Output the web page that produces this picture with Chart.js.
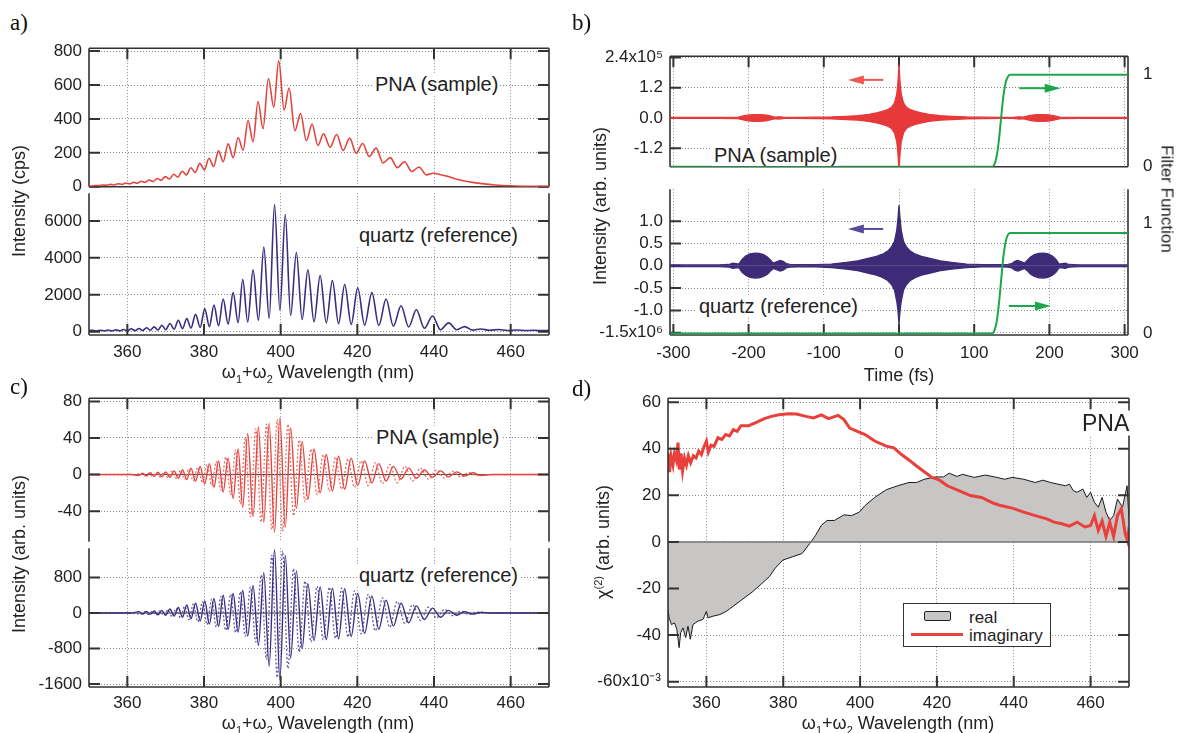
<!DOCTYPE html>
<html>
<head>
<meta charset="utf-8">
<script src="https://cdn.jsdelivr.net/npm/chart.js@4.4.1/dist/chart.umd.min.js"></script>
<style>
  body { margin: 0; background: #fff; }
  #page { position: relative; width: 1178px; height: 733px; overflow: hidden; font-family: "Liberation Sans", Arial, sans-serif; color: #222; }
  canvas { position: absolute; }
  .t { position: absolute; white-space: nowrap; line-height: 1; }
  .panel { font-family: "Liberation Serif", "Times New Roman", serif; font-size: 23px; color: #111; }
  .note { font-size: 20px; background: #fff; padding: 1px 2px; transform: translateY(-50%); }
  .xt { font-size: 18px; transform: translate(-50%, -50%); }
  .yt { font-size: 18px; transform: translate(-50%, -50%) rotate(-90deg); }
  .yr { font-size: 17px; transform: translate(-50%, -50%) rotate(90deg); }
  sub, sup { font-size: 11px; line-height: 0; }
  #legend { position: absolute; left: 903px; top: 603px; width: 146px; height: 42px; border: 1.5px solid #333; background: #fff; }
  #legend .sw { position: absolute; left: 20px; top: 7px; width: 25px; height: 8px; background: #c8c5c5; border: 1.5px solid #222; border-radius: 2px; }
  #legend .ln { position: absolute; left: 7px; top: 29px; width: 52px; height: 3px; background: #e8443f; }
  #legend .lt { position: absolute; left: 65px; font-size: 17px; transform: translateY(-50%); line-height: 1; }
</style>
</head>
<body>
<div id="page">
  <canvas id="aTop"></canvas>
  <canvas id="aBot"></canvas>
  <canvas id="bTop"></canvas>
  <canvas id="bBot"></canvas>
  <canvas id="cTop"></canvas>
  <canvas id="cBot"></canvas>
  <canvas id="dMain"></canvas>

  <div class="t panel" style="left:10px;top:11px">a)</div>
  <div class="t panel" style="left:572px;top:11px">b)</div>
  <div class="t panel" style="left:10px;top:375px">c)</div>
  <div class="t panel" style="left:572px;top:377px">d)</div>

  <div class="t note" style="left:373px;top:84px">PNA (sample)</div>
  <div class="t note" style="left:357px;top:235px">quartz (reference)</div>
  <div class="t note" style="left:712px;top:155px">PNA (sample)</div>
  <div class="t note" style="left:697px;top:306px">quartz (reference)</div>
  <div class="t note" style="left:374px;top:437px">PNA (sample)</div>
  <div class="t note" style="left:357px;top:575px">quartz (reference)</div>
  <div class="t note" style="left:1080px;top:423px;font-size:23px">PNA</div>

  <div class="t xt" style="left:318px;top:372px">ω<sub>1</sub>+ω<sub>2</sub> Wavelength (nm)</div>
  <div class="t xt" style="left:899px;top:375px">Time (fs)</div>
  <div class="t xt" style="left:318px;top:723px">ω<sub>1</sub>+ω<sub>2</sub> Wavelength (nm)</div>
  <div class="t xt" style="left:898px;top:723px">ω<sub>1</sub>+ω<sub>2</sub> Wavelength (nm)</div>

  <div class="t yt" style="left:19px;top:201px">Intensity (cps)</div>
  <div class="t yt" style="left:19px;top:554px">Intensity (arb. units)</div>
  <div class="t yt" style="left:600px;top:206px">Intensity (arb. units)</div>
  <div class="t yr" style="left:1167px;top:199px">Filter Function</div>
  <div class="t yt" style="left:603px;top:542px">χ<sup>(2)</sup> (arb. units)</div>

  <div id="legend">
    <div class="sw"></div>
    <div class="lt" style="top:13px">real</div>
    <div class="ln"></div>
    <div class="lt" style="top:31px">imaginary</div>
  </div>
</div>

<script>
const FONT = "'Liberation Sans', Arial, sans-serif";

// ---- tick values / labels ----
const waveTicks = [360, 380, 400, 420, 440, 460];
const timeTicks = [-300, -200, -100, 0, 100, 200, 300];
const aTopTicks = [0, 200, 400, 600, 800];
const aBotTicks = [0, 2000, 4000, 6000];
const bTopTicks = [-1.2, 0, 1.2, 2.4];
const bTopLabels = ["-1.2", "0.0", "1.2", "2.4x10⁵"];
const bBotTicks = [-1.5, -1, -0.5, 0, 0.5, 1];
const bBotLabels = ["-1.5x10⁶", "-1.0", "-0.5", "0.0", "0.5", "1.0"];
const filterTicks = [0, 1];
const cTopTicks = [-40, 0, 40, 80];
const cBotTicks = [-1600, -800, 0, 800];
const dTicks = [-60, -40, -20, 0, 20, 40, 60];
const dLabels = ["-60x10⁻³", "-40", "-20", "0", "20", "40", "60"];

// ---- a) spectra: PNA (sample) ----
const aRedWl = [
  350, 350.6, 351.6, 352.6, 353.6, 354.6, 355.6, 356.6, 357.6, 358.6,
  359.6, 360.6, 361.6, 362.6, 363.6, 364.6, 365.7, 366.7, 367.8, 368.8,
  369.9, 371.0, 372.1, 373.2, 374.3, 375.4, 376.6, 377.7, 378.9, 380.1,
  381.3, 382.5, 383.8, 385.0, 386.3, 387.6, 388.9, 390.2, 391.5, 392.8,
  394.1, 395.4, 396.8, 398.2, 399.5, 400.9, 402.2, 403.7, 405.2, 406.7,
  408.2, 409.7, 411.2, 412.9, 414.6, 416.3, 418.0, 419.7, 421.4, 423.1,
  424.9, 426.7, 428.6, 430.4, 432.3, 434.2, 436.1, 438.0, 439.9, 441.5,
  443.5, 446, 448, 450, 453, 456, 460, 465, 470];
const aRedVal = [
  4, 5, 8, 7, 11, 9, 14, 11, 18, 14,
  22, 17, 27, 21, 33, 26, 40, 31, 49, 38,
  60, 46, 74, 57, 92, 70, 112, 85, 138, 100,
  168, 120, 212, 148, 253, 172, 291, 215, 391, 265,
  503, 342, 638, 469, 742, 451, 582, 330, 432, 272,
  370, 244, 312, 233, 308, 215, 287, 198, 255, 178,
  228, 141, 172, 113, 148, 90, 117, 70, 80, 73,
  62, 44, 34, 26, 17, 11, 6, 3, 2];

// ---- a) spectra: quartz (reference) ----
const aBlueWl = [
  350, 351.0, 352.0, 353.0, 354.0, 355.0, 356.0, 357.0, 358.0, 359.0,
  360.0, 361.0, 362.0, 363.0, 364.0, 365.0, 366.0, 367.0, 368.0, 369.0,
  370.0, 371.1, 372.2, 373.3, 374.4, 375.5, 376.6, 377.8, 379.0, 380.2,
  381.4, 382.6, 383.8, 385.0, 386.3, 387.6, 388.9, 390.1, 391.4, 392.8,
  394.2, 395.6, 397.0, 398.4, 399.8, 401.2, 402.6, 404.1, 405.6, 407.1,
  408.7, 410.3, 411.9, 413.5, 415.1, 416.7, 418.4, 420.1, 421.9, 423.8,
  425.6, 427.5, 429.4, 431.4, 433.4, 435.4, 437.5, 439.6, 441.7, 443.8,
  445.9, 448.0, 450.1, 452.2, 454.5, 456.9, 459.2, 461.5, 463.8, 466.0,
  468.0, 470];
const aBlueVal = [
  70, 80, 40, 85, 45, 95, 45, 105, 50, 120,
  55, 160, 60, 180, 70, 215, 80, 265, 95, 355,
  110, 445, 140, 620, 170, 710, 200, 940, 240, 1240,
  280, 1450, 330, 1770, 420, 2120, 500, 2830, 530, 3350,
  620, 4590, 720, 6880, 1150, 6350, 880, 4290, 660, 3350,
  540, 3040, 480, 2770, 440, 2560, 400, 2380, 360, 2120,
  340, 1770, 300, 1410, 260, 1190, 190, 850, 110, 480,
  110, 280, 90, 150, 80, 120, 70, 95, 65, 80,
  60, 65];

// ---- b) time domain envelopes ----
const bRedTime = [
  -304, -240, -214, -210, -204, -198, -192, -186, -180, -174,
  -169, -165, -161, -157, -152, -140, -110, -90, -70, -55,
  -40, -30, -22, -15, -10, -6, -3, -1.5, 0, 1.5,
  3, 6, 10, 15, 22, 30, 40, 55, 70, 90,
  110, 140, 152, 157, 161, 165, 169, 174, 180, 186,
  192, 198, 204, 210, 214, 240, 304];
const bRedUp = [
  0.02, 0.02, 0.03, 0.06, 0.1, 0.125, 0.135, 0.135, 0.125, 0.1,
  0.06, 0.03, 0.045, 0.04, 0.02, 0.02, 0.03, 0.04, 0.065, 0.09,
  0.14, 0.2, 0.26, 0.33, 0.42, 0.6, 0.95, 1.4, 2.11, 1.4,
  0.95, 0.6, 0.42, 0.33, 0.26, 0.2, 0.14, 0.09, 0.065, 0.04,
  0.03, 0.02, 0.02, 0.04, 0.045, 0.03, 0.06, 0.1, 0.125, 0.135,
  0.135, 0.125, 0.1, 0.06, 0.03, 0.02, 0.02];
const bRedLo = [
  -0.02, -0.02, -0.03, -0.06, -0.1, -0.125, -0.135, -0.135, -0.125, -0.1,
  -0.06, -0.03, -0.045, -0.04, -0.02, -0.02, -0.03, -0.04, -0.065, -0.09,
  -0.14, -0.2, -0.26, -0.33, -0.42, -0.6, -0.95, -1.4, -2.1, -1.4,
  -0.95, -0.6, -0.42, -0.33, -0.26, -0.2, -0.14, -0.09, -0.065, -0.04,
  -0.03, -0.02, -0.02, -0.04, -0.045, -0.03, -0.06, -0.1, -0.125, -0.135,
  -0.135, -0.125, -0.1, -0.06, -0.03, -0.02, -0.02];

const bBlueTime = [
  -304, -240, -226, -221, -217, -213, -209, -204, -198, -192,
  -186, -180, -175, -171, -167, -163, -158, -154, -150, -145,
  -135, -110, -90, -70, -55, -40, -30, -22, -15, -10,
  -6, -3, -1.5, 0, 1.5, 3, 6, 10, 15, 22,
  30, 40, 55, 70, 90, 110, 135, 145, 150, 154,
  158, 163, 167, 171, 175, 180, 186, 192, 198, 204,
  209, 213, 217, 221, 226, 240, 304];
const bBlueUp = [
  0.02, 0.02, 0.03, 0.06, 0.05, 0.04, 0.14, 0.22, 0.27, 0.285,
  0.28, 0.25, 0.2, 0.13, 0.06, 0.09, 0.12, 0.1, 0.05, 0.03,
  0.025, 0.025, 0.04, 0.075, 0.11, 0.17, 0.21, 0.26, 0.33, 0.42,
  0.55, 0.8, 1.05, 1.36, 1.05, 0.8, 0.55, 0.42, 0.33, 0.26,
  0.21, 0.17, 0.11, 0.075, 0.04, 0.025, 0.025, 0.03, 0.05, 0.1,
  0.12, 0.09, 0.06, 0.13, 0.2, 0.25, 0.28, 0.285, 0.27, 0.22,
  0.14, 0.04, 0.05, 0.06, 0.03, 0.02, 0.02];
const bBlueLo = [
  -0.02, -0.02, -0.03, -0.06, -0.05, -0.04, -0.14, -0.21, -0.26, -0.275,
  -0.27, -0.24, -0.19, -0.12, -0.06, -0.09, -0.12, -0.1, -0.05, -0.03,
  -0.025, -0.025, -0.04, -0.075, -0.11, -0.17, -0.21, -0.26, -0.33, -0.42,
  -0.55, -0.8, -1.0, -1.31, -1.0, -0.8, -0.55, -0.42, -0.33, -0.26,
  -0.21, -0.17, -0.11, -0.075, -0.04, -0.025, -0.025, -0.03, -0.05, -0.1,
  -0.12, -0.09, -0.06, -0.12, -0.19, -0.24, -0.27, -0.275, -0.26, -0.21,
  -0.14, -0.04, -0.05, -0.06, -0.03, -0.02, -0.02];

// filter function (right axis)
const filterTime = [-304, 124, 127, 130, 133, 136, 139, 142, 145, 148, 152, 304];
const filterTop = [0, 0, 0.03, 0.12, 0.3, 0.55, 0.78, 0.92, 0.98, 1, 1, 1];
const filterBot = [0, 0, 0.03, 0.11, 0.28, 0.5, 0.71, 0.84, 0.9, 0.915, 0.915, 0.915];

// arrows (data units)
const arrowTopFrom = [-21, 160];
const arrowTopTo = [-68, 215];
const arrowTopAt = [1.51, 1.18];
const arrowBotFrom = [-21, 146];
const arrowBotTo = [-68, 202];
const arrowBotAt = [0.825, -0.9];

// ---- c) filtered spectra (solid + dotted) ----
const cSolidWl = [
  350, 361,
  363.0, 364.0, 365.0, 366.0, 367.0, 368.0, 369.0, 370.0, 371.1, 372.2,
  373.3, 374.4, 375.5, 376.6, 377.8, 379.0, 380.2, 381.4, 382.6, 383.8,
  385.0, 386.3, 387.6, 388.9, 390.1, 391.4, 392.8, 394.2, 395.6, 397.0,
  398.4, 399.8, 401.2, 402.6, 404.1, 405.6, 407.1, 408.7, 410.3, 411.9,
  413.5, 415.1, 416.7, 418.4, 420.1, 421.9, 423.8, 425.6, 427.5, 429.4,
  431.4, 433.4, 435.4, 437.5, 439.6, 441.7, 443.8, 445.9, 448.0, 450.1,
  452.2,
  455, 470];
const cRedSolid = [
  0, 0,
  -1, 1.5, -1.5, 2, -2, 2.5, -2.5, 3, -3, 4,
  -4, 5, -5.5, 7, -7, 9, -10, 12, -14, 15,
  -19, 18, -26, 28, -36, 45, -46, 52, -52, 56,
  -63, 62, -58, 51, -37, 36, -27, 28, -20, 22,
  -18, 20, -16, 18, -12, 15, -9, 12, -7, 9,
  -5, 7, -4, 5, -3, 4, -2.5, 3, -1.5, 2,
  -1,
  0, 0];
const cBlueSolid = [
  0, 0,
  30, -25, 35, -30, 45, -40, 60, -50, 90, -70,
  125, -95, 180, -130, 220, -180, 270, -250, 330, -300,
  400, -370, 440, -430, 510, -520, 620, -730, 910, -1200,
  1425, -1500, 1300, -1020, 950, -800, 660, -620, 585, -600,
  560, -580, 545, -530, 440, -460, 380, -365, 290, -290,
  220, -220, 160, -145, 110, -95, 60, -50, 30, -25,
  15,
  0, 0];
const cDotWl = [
  350, 361.5,
  363.5, 364.5, 365.5, 366.5, 367.5, 368.5, 369.5, 370.55, 371.65, 372.75,
  373.85, 374.95, 376.05, 377.2, 378.4, 379.6, 380.8, 382.0, 383.2, 384.4,
  385.65, 386.95, 388.25, 389.5, 390.75, 392.1, 393.5, 394.9, 396.3, 397.7,
  399.1, 400.5, 401.9, 403.35, 404.85, 406.35, 407.9, 409.5, 411.1, 412.7,
  414.3, 415.9, 417.55, 419.25, 421.0, 422.85, 424.7, 426.55, 428.45, 430.4,
  432.4, 434.4, 436.45, 438.55, 440.65, 442.75, 444.85, 446.95, 449.05, 451.15,
  455, 470];
const cRedDot = [
  0, 0,
  1, -1.5, 1.5, -2, 2, -2.5, 2.5, -3, 3.5, -4,
  4.5, -5, 6, -7, 8, -9, 11, -12, 14, -17,
  19, -22, 27, -32, 40, -46, 50, -52, 55, -60,
  60, -62, 55, -45, 38, -30, 28, -22, 22, -18,
  19, -16, 17, -14, 15, -12, 13, -10, 11, -9,
  9, -7, 7, -5, 5, -4, 3.5, -2.5, 2, -1,
  0, 0];
const cBlueDot = [
  0, 0,
  -28, 30, -33, 38, -43, 50, -55, 70, -80, 105,
  -110, 150, -150, 200, -200, 250, -260, 310, -320, 370,
  -390, 420, -440, 480, -520, 580, -650, 850, -1050, 1300,
  -1450, 1400, -1250, 1000, -880, 720, -650, 600, -600, 580,
  -570, 560, -540, 500, -470, 420, -400, 340, -320, 260,
  -240, 190, -170, 130, -110, 80, -60, 40, -30, 20,
  0, 0];

// ---- d) chi(2) real / imaginary ----
const dImagWl = [
  350, 350.4, 350.8, 351.3, 351.7, 352.2, 352.6, 353.0, 353.4, 353.8,
  354.3, 354.8, 355.3, 355.9, 356.6, 357.3, 358, 358.7, 359.4, 360,
  360.5, 361.2, 362, 363, 364, 365, 366, 367, 368, 369,
  371, 373, 374.9, 376.9, 378.9, 381.4, 383.4, 385.9, 387.9, 389.9,
  391.8, 394.3, 395.8, 397.3, 399.3, 401.3, 403.8, 406.8, 408.8, 410.7,
  412.7, 414.7, 416.7, 418.7, 420.7, 422.7, 425.7, 428.7, 431.6, 434.6,
  436.6, 439.6, 442.6, 445.6, 448.6, 450.5, 452.5, 454.5, 456.5, 458.5,
  460, 461, 462, 463, 464, 465, 466, 467, 468, 469,
  469.7, 470];
const dImagVal = [
  38, 30, 37, 33, 38, 35, 42.6, 31, 38, 30.5,
  36, 33, 37, 34, 37, 36, 39, 37.5, 41, 43.3,
  38.5, 41.5, 41, 44.7, 44, 46.1, 45.5, 48.2, 47.5, 49.9,
  49.9, 51.3, 52.8, 53.9, 54.6, 55, 54.9, 53.9, 53.2, 54.5,
  52.9, 54.3, 52.5, 48.9, 47.5, 46.1, 43.3, 41.1, 40.4, 37.6,
  35.2, 32.6, 30.1, 27.7, 26.5, 24.1, 22, 19.9, 19.1, 16.7,
  15.6, 14.5, 12.8, 11.3, 9.9, 8.5, 7.8, 6.8, 8.5, 6.4,
  7, 11.3, 5, 9, 2.3, 8.5, 2.3, 11.3, 14.2, 3.7,
  0, 6.4];
const dRealWl = [
  350, 350.3, 350.9, 351.7, 352.3, 352.9, 353.3, 353.9, 354.6, 355.2,
  355.8, 356.5, 357.8, 359.1, 360, 360.4, 361.7, 363.5, 365.2, 366.9,
  368.7, 370.4, 372.1, 374, 376.4, 377.9, 379.9, 382.4, 384.9, 386.9,
  388.4, 389.9, 391.4, 393.3, 395.8, 397.8, 399.8, 401.3, 403.8, 406.8,
  409.8, 412.7, 414.7, 416.7, 419.7, 421.7, 423.2, 425.2, 426.7, 429.7,
  432.6, 435.6, 437.6, 439.6, 442.6, 445.6, 447.6, 449.6, 451.5, 453.5,
  454.5, 455.5, 456.5, 458, 459, 460, 461, 462, 463, 464,
  465, 466, 467, 468.3, 469.5, 470];
const dRealVal = [
  -29.1, -32.6, -35.5, -34.8, -37.6, -45.4, -39, -36.9, -41.1, -36.2,
  -41.8, -35.5, -34, -33.3, -29.8, -32.6, -31.9, -31.2, -29.8, -27.7,
  -25.5, -23.4, -21.3, -18.5, -14.9, -11.3, -7.8, -6.4, -5, -0.7,
  2.8, 7.1, 9.2, 9.2, 11.6, 11.3, 12.8, 15.6, 19.1, 22.4,
  24.1, 25.5, 25.5, 26.9, 27.9, 27.9, 29.5, 28.1, 29, 27.7,
  28.7, 27.7, 26.9, 27.7, 26.9, 25.5, 26.5, 25.5, 24.8, 24.1,
  24.8, 22, 21.3, 22.7, 19.1, 21.3, 17, 14.9, 19.1, 12.8,
  9.2, 11.3, 18.4, 14.9, 24.1, 9.9];

// ---- styles ----
const RED_A = "#e2463f";
const BLUE_A = "#3b2e80";
const RED_B = "#e8393a";
const BLUE_B = "#3d2b78";
const GREEN = "#1fa64c";
const RED_D = "#e8403b";
const FRAME = "#333";

function pts(xs, ys) {
  return xs.map((x, i) => ({ x, y: ys[i] }));
}

const frames = {};

function drawFrame(chart, s) {
  const { ctx, chartArea: a, scales } = chart;
  ctx.save();
  ctx.strokeStyle = FRAME;
  ctx.lineWidth = 1.6;
  ctx.beginPath();
  if (s.sides.includes("t")) { ctx.moveTo(a.left, a.top); ctx.lineTo(a.right, a.top); }
  if (s.sides.includes("b")) { ctx.moveTo(a.left, a.bottom); ctx.lineTo(a.right, a.bottom); }
  if (s.sides.includes("l")) { ctx.moveTo(a.left, a.top); ctx.lineTo(a.left, a.bottom); }
  if (s.sides.includes("r")) { ctx.moveTo(a.right, a.top); ctx.lineTo(a.right, a.bottom); }
  ctx.stroke();
  const L = 11;
  ctx.lineWidth = 2;
  ctx.beginPath();
  s.xTicks.forEach((v) => {
    const x = scales.x.getPixelForValue(v);
    if (s.tickTop) { ctx.moveTo(x, a.top); ctx.lineTo(x, a.top + L); }
    if (s.tickBottom) { ctx.moveTo(x, a.bottom); ctx.lineTo(x, a.bottom - L); }
  });
  s.yTicks.forEach((v) => {
    const y = scales.y.getPixelForValue(v);
    ctx.moveTo(a.left, y); ctx.lineTo(a.left + L, y);
    if (s.rightTicks) { ctx.moveTo(a.right, y); ctx.lineTo(a.right - L, y); }
  });
  ctx.stroke();
  ctx.restore();
}

function drawZero(chart, color, width) {
  const { ctx, chartArea: a, scales } = chart;
  const y = scales.y.getPixelForValue(0);
  ctx.save();
  ctx.strokeStyle = color;
  ctx.lineWidth = width;
  ctx.beginPath();
  ctx.moveTo(a.left, y);
  ctx.lineTo(a.right, y);
  ctx.stroke();
  ctx.restore();
}

function drawArrows(chart, arr) {
  const { ctx, scales } = chart;
  arr.from.forEach((f, i) => {
    const y = scales.y.getPixelForValue(arr.at[i]);
    const x0 = scales.x.getPixelForValue(f);
    const x1 = scales.x.getPixelForValue(arr.to[i]);
    const dir = Math.sign(x1 - x0);
    ctx.save();
    ctx.strokeStyle = arr.colors[i];
    ctx.fillStyle = arr.colors[i];
    ctx.lineWidth = 2;
    ctx.beginPath();
    ctx.moveTo(x0, y);
    ctx.lineTo(x1 - dir * 12, y);
    ctx.stroke();
    ctx.beginPath();
    ctx.moveTo(x1, y);
    ctx.lineTo(x1 - dir * 16, y - 4.5);
    ctx.lineTo(x1 - dir * 16, y + 4.5);
    ctx.closePath();
    ctx.fill();
    ctx.restore();
  });
}

const framePlugin = {
  id: "frame",
  beforeDatasetsDraw(chart) {
    const s = frames[chart.canvas.id];
    if (s.zero && !s.zeroAfter) drawZero(chart, s.zero, 1);
    if (s.under) drawFrame(chart, s);
  },
  afterDatasetsDraw(chart) {
    const s = frames[chart.canvas.id];
    if (s.zero && s.zeroAfter) drawZero(chart, s.zero, 1.5);
    if (!s.under) drawFrame(chart, s);
    if (s.arrows) drawArrows(chart, s.arrows);
  },
};

function axis(o) {
  return {
    type: "linear",
    position: o.position,
    min: o.min,
    max: o.max,
    afterBuildTicks: (ax) => {
      ax.ticks = o.ticks.map((v) => ({ value: v }));
    },
    afterFit: (ax) => {
      if (ax.isHorizontal()) ax.height = o.size;
      else ax.width = o.size;
    },
    ticks: {
      display: o.labels !== false,
      autoSkip: false,
      maxRotation: 0,
      minRotation: 0,
      padding: o.padding || 7,
      color: "#222",
      font: { family: FONT, size: 17 },
      callback: (v, i) => (Array.isArray(o.labels) ? o.labels[i] : String(v)),
    },
    grid: { display: o.grid !== false, drawTicks: false, color: "#8c8c8c", lineWidth: 1 },
    border: { display: false, dash: [1, 2] },
  };
}

function build(id, box, pad, cfg) {
  const canvas = document.getElementById(id);
  const w = box.r - box.l + pad.l + pad.r;
  const h = box.b - box.t + pad.t + pad.b;
  canvas.width = w;
  canvas.height = h;
  canvas.style.width = w + "px";
  canvas.style.height = h + "px";
  canvas.style.left = box.l - pad.l + "px";
  canvas.style.top = box.t - pad.t + "px";
  frames[id] = cfg.frame;

  const scales = {
    x: axis({ ...cfg.x, position: "bottom", size: pad.b }),
    y: axis({ ...cfg.y, position: "left", size: pad.l }),
  };
  if (cfg.y2) scales.y2 = axis({ ...cfg.y2, position: "right", size: pad.r, grid: false });

  return new Chart(canvas, {
    type: "line",
    data: { datasets: cfg.datasets },
    options: {
      responsive: false,
      animation: false,
      devicePixelRatio: 1,
      layout: { padding: { top: pad.t, right: cfg.y2 ? 0 : pad.r, left: 0, bottom: 0 } },
      plugins: { legend: { display: false }, tooltip: { enabled: false } },
      elements: { point: { radius: 0 } },
      scales,
    },
    plugins: [framePlugin],
  });
}

function line(xs, ys, color, width, extra) {
  return Object.assign({
    data: pts(xs, ys),
    borderColor: color,
    borderWidth: width,
    pointRadius: 0,
    fill: false,
  }, extra || {});
}

// ---- panel a ----
build("aTop", { l: 89, t: 45, r: 549, b: 190 }, { l: 60, r: 15, t: 14, b: 14 }, {
  x: { min: 350, max: 470, ticks: waveTicks, labels: false },
  y: { min: 0, max: 817, ticks: aTopTicks },
  datasets: [line(aRedWl, aRedVal, RED_A, 1.6, { cubicInterpolationMode: "monotone" })],
  frame: { sides: "tlrb", xTicks: waveTicks, yTicks: aTopTicks, tickTop: true, rightTicks: true, under: true },
});
build("aBot", { l: 89, t: 190, r: 549, b: 335 }, { l: 60, r: 15, t: 14, b: 45 }, {
  x: { min: 350, max: 470, ticks: waveTicks, padding: 7 },
  y: { min: -175, max: 7500, ticks: aBotTicks },
  datasets: [line(aBlueWl, aBlueVal, BLUE_A, 1.6, { cubicInterpolationMode: "monotone" })],
  frame: { sides: "lrb", xTicks: waveTicks, yTicks: aBotTicks, tickBottom: true, rightTicks: true },
});

// ---- panel b ----
build("bTop", { l: 670, t: 45, r: 1128, b: 178 }, { l: 85, r: 45, t: 14, b: 14 }, {
  x: { min: -304.5, max: 304.5, ticks: timeTicks, labels: false },
  y: { min: -1.94, max: 2.45, ticks: bTopTicks, labels: bTopLabels },
  y2: { min: 0, max: 1.2, ticks: filterTicks, padding: 15 },
  datasets: [
    line(filterTime, filterTop, GREEN, 2, { yAxisID: "y2", cubicInterpolationMode: "monotone" }),
    line(bRedTime, bRedUp, RED_B, 1.2, { fill: "origin", backgroundColor: RED_B }),
    line(bRedTime, bRedLo, RED_B, 1.2, { fill: "origin", backgroundColor: RED_B }),
  ],
  frame: {
    sides: "tlrb", xTicks: timeTicks, yTicks: bTopTicks, tickTop: true, under: true,
    arrows: { from: arrowTopFrom, to: arrowTopTo, at: arrowTopAt, colors: ["#ec5a52", GREEN] },
  },
});
build("bBot", { l: 670, t: 178, r: 1128, b: 335 }, { l: 85, r: 45, t: 14, b: 45 }, {
  x: { min: -304.5, max: 304.5, ticks: timeTicks, padding: 8 },
  y: { min: -1.55, max: 1.715, ticks: bBotTicks, labels: bBotLabels },
  y2: { min: -0.014, max: 1.313, ticks: filterTicks, padding: 15 },
  datasets: [
    line(filterTime, filterBot, GREEN, 2, { yAxisID: "y2", cubicInterpolationMode: "monotone" }),
    line(bBlueTime, bBlueUp, BLUE_B, 1.2, { fill: "origin", backgroundColor: BLUE_B }),
    line(bBlueTime, bBlueLo, BLUE_B, 1.2, { fill: "origin", backgroundColor: BLUE_B }),
  ],
  frame: {
    sides: "lrb", xTicks: timeTicks, yTicks: bBotTicks, tickBottom: true, under: true,
    arrows: { from: arrowBotFrom, to: arrowBotTo, at: arrowBotAt, colors: ["#5a4a9a", GREEN] },
  },
});

// ---- panel c ----
build("cTop", { l: 89, t: 395, r: 549, b: 545 }, { l: 60, r: 15, t: 14, b: 14 }, {
  x: { min: 350, max: 470, ticks: waveTicks, labels: false },
  y: { min: -73.5, max: 83.5, ticks: cTopTicks },
  datasets: [
    line(cSolidWl, cRedSolid, RED_A, 1.4, { cubicInterpolationMode: "monotone" }),
    line(cDotWl, cRedDot, "#ee6a64", 1.3, { cubicInterpolationMode: "monotone", borderDash: [2, 2] }),
  ],
  frame: { sides: "tlr", xTicks: waveTicks, yTicks: cTopTicks, tickTop: true, rightTicks: true, zero: "#444" },
});
build("cBot", { l: 89, t: 545, r: 549, b: 687 }, { l: 60, r: 15, t: 14, b: 40 }, {
  x: { min: 350, max: 470, ticks: waveTicks, padding: 6 },
  y: { min: -1667, max: 1460, ticks: cBotTicks },
  datasets: [
    line(cSolidWl, cBlueSolid, BLUE_A, 1.4, { cubicInterpolationMode: "monotone" }),
    line(cDotWl, cBlueDot, "#6458a0", 1.3, { cubicInterpolationMode: "monotone", borderDash: [2, 2] }),
  ],
  frame: { sides: "lrb", xTicks: waveTicks, yTicks: cBotTicks, tickBottom: true, rightTicks: true, zero: "#444" },
});

// ---- panel d ----
build("dMain", { l: 668, t: 395, r: 1129, b: 687 }, { l: 85, r: 15, t: 14, b: 40 }, {
  x: { min: 350, max: 470, ticks: waveTicks, padding: 6 },
  y: { min: -62.3, max: 61.7, ticks: dTicks, labels: dLabels },
  datasets: [
    line(dImagWl, dImagVal, RED_D, 3),
    line(dRealWl, dRealVal, "#1a1a1a", 1, { fill: "origin", backgroundColor: "#c8c5c5" }),
  ],
  frame: {
    sides: "tlrb", xTicks: waveTicks, yTicks: dTicks, tickTop: true, tickBottom: true,
    rightTicks: true, zero: "#777", zeroAfter: true,
  },
});
</script>
</body>
</html>
